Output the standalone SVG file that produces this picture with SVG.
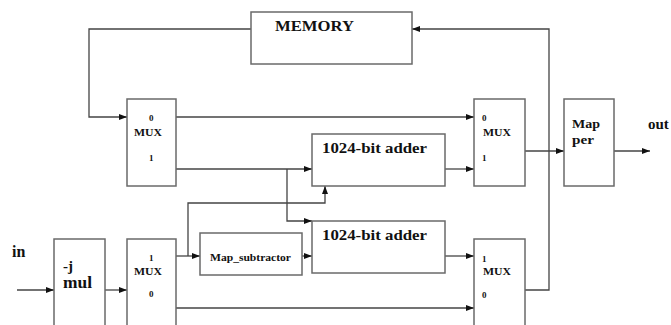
<svg xmlns="http://www.w3.org/2000/svg" width="671" height="325" viewBox="0 0 671 325">
<defs>
<marker id="ah" markerWidth="8" markerHeight="6" refX="8" refY="3" orient="auto" markerUnits="userSpaceOnUse">
<path d="M0,0 L8,3 L0,6 Z" fill="#111"/>
</marker>
<style>
.box{fill:#fff;stroke:#6a6a6a;stroke-width:1.5}
.ln{fill:none;stroke:#444;stroke-width:1.3}
.ar{marker-end:url(#ah)}
.big{font-size:14px}
.mux{font-size:11px}
.num{font-size:9px}
</style>
</defs>
<rect width="671" height="325" fill="#fff"/>
<g id="connectors">
<polyline class="ln ar" points="251,29 89,29 89,117 127,117"/>
<polyline class="ln ar" points="176,117 474,117"/>
<polyline class="ln ar" points="176,169 312,169"/>
<polyline class="ln ar" points="287,169 287,221 312,221"/>
<polyline class="ln ar" points="445,169 474,169"/>
<polyline class="ln ar" points="17,290 54,290"/>
<polyline class="ln ar" points="105,290 127,290"/>
<polyline class="ln ar" points="176,256 200,256"/>
<polyline class="ln ar" points="188,256 188,203 325,203 325,186"/>
<polyline class="ln ar" points="302,256 312,256"/>
<polyline class="ln ar" points="445,256 474,256"/>
<polyline class="ln ar" points="176,308 474,308"/>
<polyline class="ln ar" points="525,290 549,290 549,29 412,29"/>
<polyline class="ln ar" points="525,151 564,151"/>
<polyline class="ln ar" points="614,151 650,151"/>
</g>
<g font-family="'Liberation Serif', 'DejaVu Serif', serif" font-weight="bold" fill="#111">
<g id="memory">
<rect class="box" x="251" y="12" width="161" height="52"/>
<text class="big" x="275" y="31" textLength="79" lengthAdjust="spacingAndGlyphs">MEMORY</text>
</g>
<g id="mux1">
<rect class="box" x="127" y="99" width="49" height="87"/>
<text class="num" x="149" y="121">0</text>
<text class="mux" x="134" y="136" textLength="28" lengthAdjust="spacingAndGlyphs">MUX</text>
<text class="num" x="149" y="161">1</text>
</g>
<g id="mux3">
<rect class="box" x="474" y="99" width="51" height="87"/>
<text class="num" x="482" y="121">0</text>
<text class="mux" x="483" y="136" textLength="28" lengthAdjust="spacingAndGlyphs">MUX</text>
<text class="num" x="482" y="161">1</text>
</g>
<g id="adder1">
<rect class="box" x="312" y="134" width="133" height="52"/>
<text class="big" x="322" y="153" textLength="105" lengthAdjust="spacingAndGlyphs">1024-bit adder</text>
</g>
<g id="adder2">
<rect class="box" x="312" y="221" width="133" height="52"/>
<text class="big" x="322" y="240" textLength="105" lengthAdjust="spacingAndGlyphs">1024-bit adder</text>
</g>
<g id="mapper">
<rect class="box" x="564" y="99" width="50" height="87"/>
<text x="572" y="128" font-size="13" font-weight="600" textLength="28" lengthAdjust="spacingAndGlyphs">Map</text>
<text x="572" y="144" font-size="13" font-weight="600" textLength="22" lengthAdjust="spacingAndGlyphs">per</text>
</g>
<g id="out">
<text x="648" y="129" font-size="15">out</text>
</g>
<g id="in">
<text x="12" y="257" font-size="16">in</text>
</g>
<g id="jmul">
<rect class="box" x="54" y="239" width="51" height="100"/>
<text x="63" y="271" font-size="15">-j</text>
<text x="63" y="288" font-size="17" textLength="29" lengthAdjust="spacingAndGlyphs">mul</text>
</g>
<g id="mux2">
<rect class="box" x="127" y="239" width="49" height="100"/>
<text class="num" x="149" y="261">1</text>
<text class="mux" x="134" y="275" textLength="28" lengthAdjust="spacingAndGlyphs">MUX</text>
<text class="num" x="149" y="297">0</text>
</g>
<g id="map_subtractor">
<rect class="box" x="200" y="233" width="102" height="42"/>
<text x="210" y="261" font-size="10" textLength="81" lengthAdjust="spacingAndGlyphs">Map_subtractor</text>
</g>
<g id="mux4">
<rect class="box" x="474" y="239" width="51" height="100"/>
<text class="num" x="482" y="262">1</text>
<text class="mux" x="483" y="275" textLength="28" lengthAdjust="spacingAndGlyphs">MUX</text>
<text class="num" x="482" y="298">0</text>
</g>
</g>
</svg>
